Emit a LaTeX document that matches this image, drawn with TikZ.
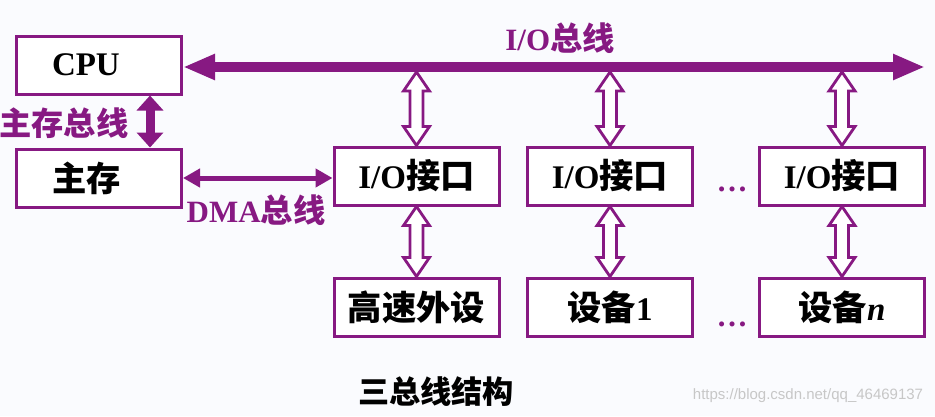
\documentclass[tikz,border=0pt]{standalone}
\usepackage{fontspec}
\setmainfont{Liberation Serif}
\setsansfont{Liberation Sans}
\newfontfamily\cjk{Noto Sans CJK SC}[Scale=1.04]
\usetikzlibrary{arrows.meta,calc}
\definecolor{buspurple}{RGB}{135,25,130}
\definecolor{paper}{RGB}{250,251,254}
\newcommand{\zh}[1]{{\cjk #1}}
% hollow double arrow between two points on one vertical
\newcommand{\dualarrow}[2]{%
	\draw[hollowarrow] let \p1=(#1), \p2=(#2) in
	(\x1,\y1) -- ({\x1+13pt},{\y1-19pt}) -- ({\x1+6.5pt},{\y1-19pt})
	-- ({\x1+6.5pt},{\y2+19pt}) -- ({\x1+13pt},{\y2+19pt}) -- (\x1,\y2)
	-- ({\x1-13pt},{\y2+19pt}) -- ({\x1-6.5pt},{\y2+19pt})
	-- ({\x1-6.5pt},{\y1-19pt}) -- ({\x1-13pt},{\y1-19pt}) -- cycle;}

\begin{document}
\begin{tikzpicture}[x=1pt, y=-1pt,
	box/.style={draw=buspurple, line width=3pt, fill=white, minimum width=165pt, minimum height=58pt, inner sep=0pt, font=\bfseries\fontsize{33}{36}\selectfont},
	leftbox/.style={box, text width=94pt, align=left},
	buslabel/.style={text=buspurple, inner sep=0pt, font=\bfseries\fontsize{31}{34}\selectfont},
	hollowarrow/.style={draw=buspurple, line width=2.8pt, fill=white},
	iobus/.style={buspurple, line width=10pt, {Triangle[length=32pt,width=24pt]}-{Triangle[length=32pt,width=24pt]}},
	membus/.style={buspurple, line width=9pt, {Triangle[length=15pt,width=26pt]}-{Triangle[length=15pt,width=26pt]}},
	dmabus/.style={buspurple, line width=5pt, {Triangle[length=17pt,width=18pt]}-{Triangle[length=17pt,width=18pt]}}]
	\fill[paper] (0,0) rectangle (935,416);
	\useasboundingbox (0,0) rectangle (935,416);
	% CPU and main memory
	\node[leftbox] (cpu) at (99,65) {CPU};
	\node[leftbox] (mem) at (99,178) {\zh{主存}};
	\coordinate (busc) at (0,67);
	\coordinate (busB) at (0,72);
	\coordinate (busR) at (925,67);
	% interfaces and devices
	\foreach \i/\x/\dev in {1/416.5/\zh{高速外设}, 2/610/\zh{设备}1, 3/842/\zh{设备}\textit{n}}
	{
		\node[box] (io\i) at (\x,176) {I/O\zh{接口}};
		\node[box] (dev\i) at (\x,307) {\dev};
		\dualarrow{io\i.north |- busB}{io\i.north}
		\dualarrow{io\i.south}{dev\i.north}
	}
	\node[text=buspurple, anchor=base, font=\bfseries\fontsize{31}{34}\selectfont] (dots1) at (732,191) {…};
	\node[text=buspurple, anchor=base, font=\bfseries\fontsize{31}{34}\selectfont] (dots2) at (732,326) {…};
	% the three buses
	\draw[iobus] (cpu.east |- busc) -- (busR);
	\draw[membus] ([xshift=51pt]cpu.south) -- ([xshift=51pt]mem.north);
	\draw[dmabus] (mem.east) -- (mem.east -| io1.west);
	\node[buslabel] (iolab) at (560,38) {I/O\zh{总线}};
	\node[buslabel] (memlab) at (64,123) {\zh{主存总线}};
	\node[buslabel] (dmalab) at (256,210) {DMA\zh{总线}};
	% caption
	\node[inner sep=0pt, font=\fontsize{30}{34}\selectfont] (title) at (436,392) {\zh{\bfseries 三总线结构}};
	\node[inner sep=0pt, text=black!22, font=\sffamily\fontsize{15}{18}\selectfont] (mark) at (808,396) {https://blog.csdn.net/qq\_46469137};
\end{tikzpicture}
\end{document}
